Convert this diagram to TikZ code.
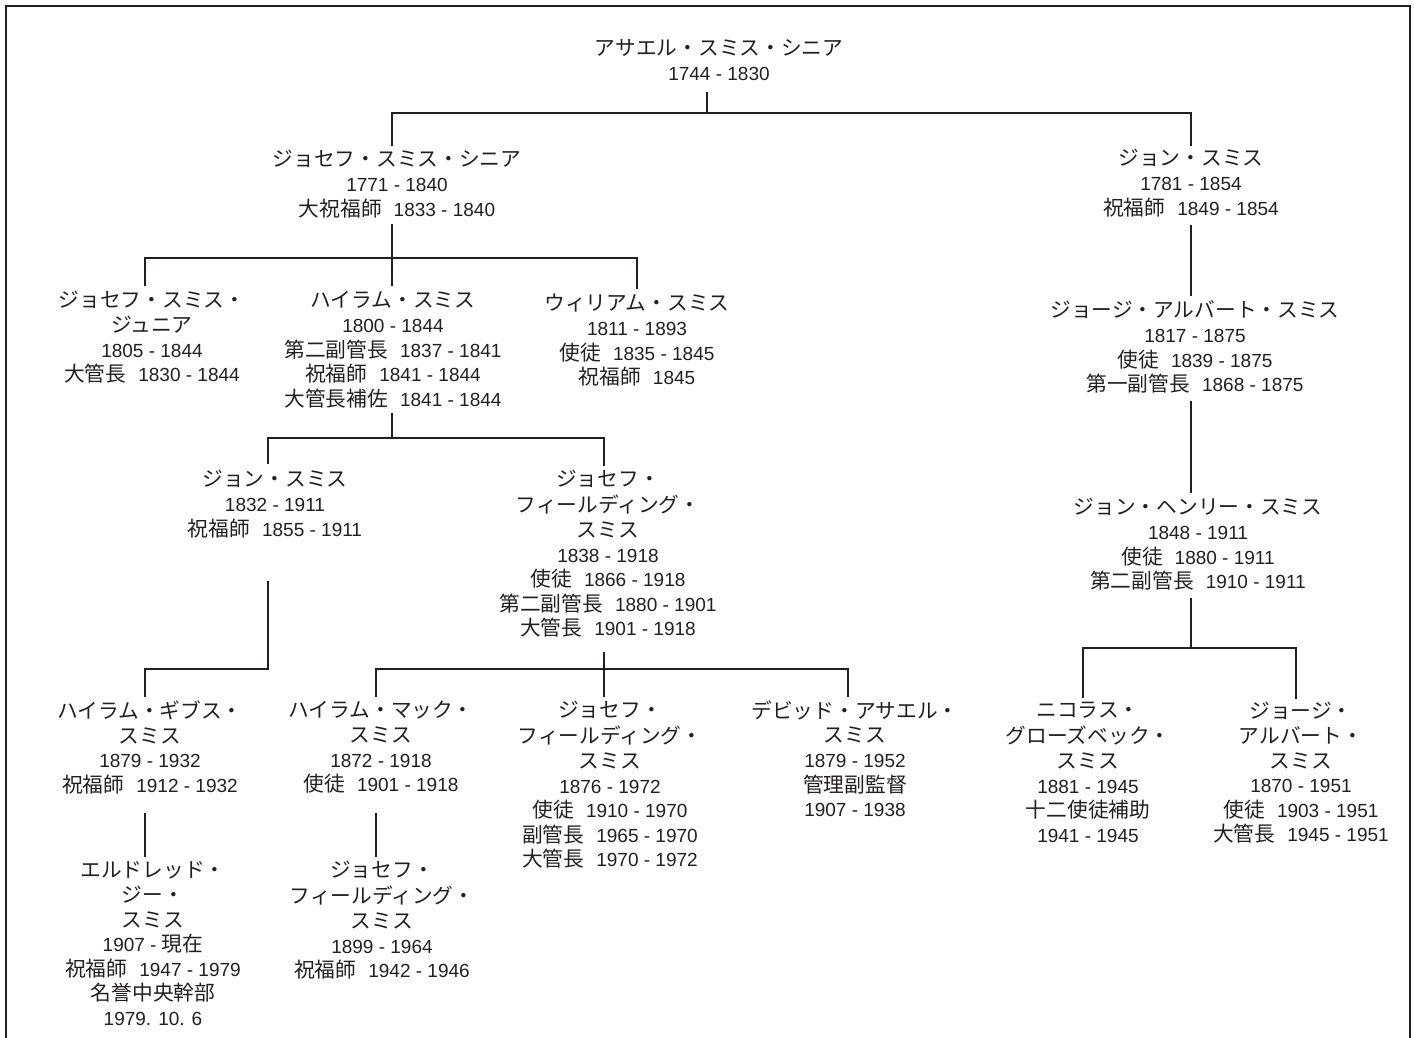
\documentclass[tikz,border=0pt]{standalone}
\usepackage{fontspec}
\setmainfont{Liberation Sans}
\newfontfamily\jpfont{Noto Sans CJK JP}[Scale=1.09]
\newcommand{\ja}[1]{{\jpfont #1}}
\newcommand{\yg}{\hspace{12pt}}
\definecolor{ink}{RGB}{35,31,32}
\begin{document}
\begin{tikzpicture}[x=1pt,y=-1pt,
  person/.style={align=center, inner sep=0pt, anchor=north, yshift=9.5pt, text=ink,
    font=\fontsize{19}{24.6}\selectfont},
  conn/.style={draw=ink, line width=1.2pt, line cap=rect},
  bar/.style={draw=ink, line width=1.8pt}]
\useasboundingbox (0,0) rectangle (1414,1038);
% frame
\draw[conn, line cap=butt] (6,1038) -- (6,6) -- (1410,6) -- (1410,1038);

% people
\node[person] (root) at (719,48) {\strut\ja{アサエル・スミス・シニア}\\1744 - 1830};
\node[person] (jss) at (397,159) {\strut\ja{ジョセフ・スミス・シニア}\\1771 - 1840\\\ja{大祝福師}\yg 1833 - 1840};
\node[person] (john81) at (1191,158) {\strut\ja{ジョン・スミス}\\1781 - 1854\\\ja{祝福師}\yg 1849 - 1854};
\node[person] (jsjr) at (152,300) {\strut\ja{ジョセフ・スミス・}\\\ja{ジュニア}\\1805 - 1844\\\ja{大管長}\yg 1830 - 1844};
\node[person] (hyrum) at (393,300) {\strut\ja{ハイラム・スミス}\\1800 - 1844\\\ja{第二副管長}\yg 1837 - 1841\\\ja{祝福師}\yg 1841 - 1844\\\ja{大管長補佐}\yg 1841 - 1844};
\node[person] (william) at (637,303) {\strut\ja{ウィリアム・スミス}\\1811 - 1893\\\ja{使徒}\yg 1835 - 1845\\\ja{祝福師}\yg 1845};
\node[person] (ga17) at (1195,310) {\strut\ja{ジョージ・アルバート・スミス}\\1817 - 1875\\\ja{使徒}\yg 1839 - 1875\\\ja{第一副管長}\yg 1868 - 1875};
\node[person] (john32) at (275,479) {\strut\ja{ジョン・スミス}\\1832 - 1911\\\ja{祝福師}\yg 1855 - 1911};
\node[person] (jfs38) at (608,479) {\strut\ja{ジョセフ・}\\\ja{フィールディング・}\\\ja{スミス}\\1838 - 1918\\\ja{使徒}\yg 1866 - 1918\\\ja{第二副管長}\yg 1880 - 1901\\\ja{大管長}\yg 1901 - 1918};
\node[person] (jhs) at (1198,507) {\strut\ja{ジョン・ヘンリー・スミス}\\1848 - 1911\\\ja{使徒}\yg 1880 - 1911\\\ja{第二副管長}\yg 1910 - 1911};
\node[person] (hgs) at (150,710) {\strut\ja{ハイラム・ギブス・}\\\ja{スミス}\\1879 - 1932\\\ja{祝福師}\yg 1912 - 1932};
\node[person] (hms) at (381,710) {\strut\ja{ハイラム・マック・}\\\ja{スミス}\\1872 - 1918\\\ja{使徒}\yg 1901 - 1918};
\node[person] (jfs76) at (610,710) {\strut\ja{ジョセフ・}\\\ja{フィールディング・}\\\ja{スミス}\\1876 - 1972\\\ja{使徒}\yg 1910 - 1970\\\ja{副管長}\yg 1965 - 1970\\\ja{大管長}\yg 1970 - 1972};
\node[person] (das) at (855,710) {\strut\ja{デビッド・アサエル・}\\\ja{スミス}\\1879 - 1952\\\ja{管理副監督}\\1907 - 1938};
\node[person] (ngs) at (1088,710) {\strut\ja{ニコラス・}\\\ja{グローズベック・}\\\ja{スミス}\\1881 - 1945\\\ja{十二使徒補助}\\1941 - 1945};
\node[person] (ga70) at (1301,711) {\strut\ja{ジョージ・}\\\ja{アルバート・}\\\ja{スミス}\\1870 - 1951\\\ja{使徒}\yg 1903 - 1951\\\ja{大管長}\yg 1945 - 1951};
\node[person] (egs) at (153,870) {\strut\ja{エルドレッド・}\\\ja{ジー・}\\\ja{スミス}\\1907 - \ja{現在}\\\ja{祝福師}\yg 1947 - 1979\\\ja{名誉中央幹部}\\1979. 10. 6};
\node[person] (jfs99) at (382,870) {\strut\ja{ジョセフ・}\\\ja{フィールディング・}\\\ja{スミス}\\1899 - 1964\\\ja{祝福師}\yg 1942 - 1946};

% connector points
\coordinate (rootS) at (707,93);
\coordinate (b1M) at (707,113);
\coordinate (b1L) at (392,113);
\coordinate (b1R) at (1191,113);
\coordinate (jssN) at (392,145);
\coordinate (john81N) at (1191,145);

\coordinate (jssS) at (392,225);
\coordinate (b2M) at (392,258);
\coordinate (jsjrN) at (145,285);
\coordinate (hyrumN) at (392,285);
\coordinate (williamN) at (637,288);

\coordinate (john81S) at (1191,226);
\coordinate (ga17N) at (1191,295);
\coordinate (ga17S) at (1191,402);
\coordinate (jhsN) at (1191,492);
\coordinate (jhsS) at (1191,599);
\coordinate (b8M) at (1191,648);
\coordinate (ngsN) at (1083,697);
\coordinate (ga70N) at (1296,698);

\coordinate (hyrumS) at (392,414);
\coordinate (b5M) at (392,438);
\coordinate (john32N) at (268,463);
\coordinate (jfs38N) at (604,465);

\coordinate (john32S) at (268,582);
\coordinate (b6L) at (145,669);
\coordinate (hgsN) at (145,696);

\coordinate (jfs38S) at (604,653);
\coordinate (b7M) at (604,669);
\coordinate (hmsN) at (376,696);
\coordinate (jfs76N) at (604,696);
\coordinate (dasN) at (848,696);

\coordinate (hgsS) at (145,814);
\coordinate (egsN) at (145,856);
\coordinate (hmsS) at (376,814);
\coordinate (jfs99N) at (376,856);

% connectors
\draw[conn] (rootS) -- (b1M);
\draw[bar] (b1L) -- (b1R);
\draw[conn] (b1L) -- (jssN);
\draw[conn] (b1R) -- (john81N);

\draw[conn] (jssS) -- (hyrumN);
\draw[conn] (jsjrN) |- (b2M) -| (williamN);

\draw[conn] (john81S) -- (ga17N);
\draw[conn] (ga17S) -- (jhsN);
\draw[conn] (jhsS) -- (b8M);
\draw[conn] (ngsN) |- (b8M) -| (ga70N);

\draw[conn] (hyrumS) -- (b5M);
\draw[conn] (john32N) |- (b5M) -| (jfs38N);

\draw[conn] (john32S) |- (b6L) -- (hgsN);

\draw[conn] (jfs38S) -- (jfs76N);
\draw[conn] (hmsN) |- (b7M) -| (dasN);

\draw[conn] (hgsS) -- (egsN);
\draw[conn] (hmsS) -- (jfs99N);
\end{tikzpicture}
\end{document}
